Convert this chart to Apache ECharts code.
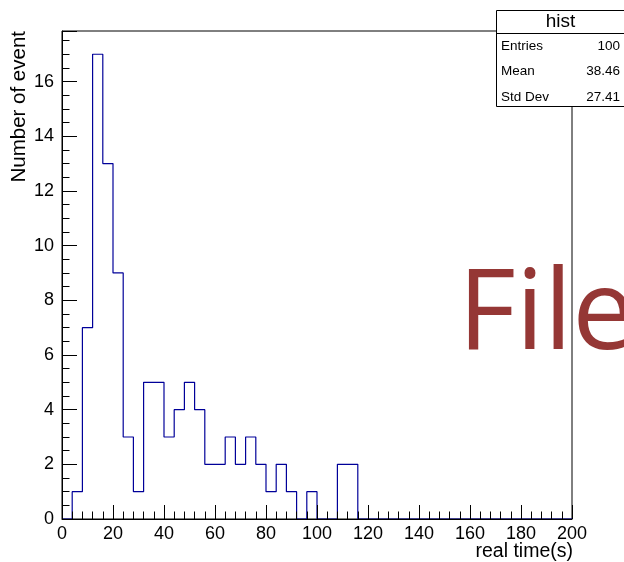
<!DOCTYPE html>
<html><head><meta charset="utf-8">
<script src="https://cdn.jsdelivr.net/npm/echarts@6/dist/echarts.min.js"></script>
<style>html,body{margin:0;padding:0;background:#fff}#c{width:624px;height:562px}</style>
</head><body><div id="c"></div>
<script>
// ---- data ----
const binStart = 0;
const binWidth = 4;
const counts = [0,1,7,17,13,9,3,1,5,5,3,4,5,4,2,2,3,2,3,2,1,2,1,0,1,0,0,2,2,0,
                0,0,0,0,0,0,0,0,0,0,0,0,0,0,0,0,0,0,0,0];
const xTickLabels = [0,20,40,60,80,100,120,140,160,180,200];
const yTickLabels = [0,2,4,6,8,10,12,14,16];
const statsTitle = 'hist';
const statsNames = ['Entries','Mean','Std Dev'];
const statsValues = ['100','38.46','27.41'];
const xTitle = 'real time(s)';
const yTitle = 'Number of event';
const watermark = 'File';
const yMax = 17.85;

// ---- build histogram outline ----
const outline = [[binStart, 0]];
counts.forEach((c, i) => {
  const lo = binStart + i * binWidth, hi = lo + binWidth;
  outline.push([lo, c], [hi, c]);
});
outline.push([binStart + counts.length * binWidth, 0]);

const font = '"Liberation Sans", Arial, Helvetica, sans-serif';
const chart = echarts.init(document.getElementById('c'), null, {renderer: 'canvas'});
const gl = 62, gr = 52, gt = 31, gb = 43;

chart.setOption({
  animation: false,
  backgroundColor: '#fff',
  grid: {left: gl, right: gr, top: gt, bottom: gb, show: true, borderColor: '#000', borderWidth: 1,
         backgroundColor: 'transparent', containLabel: false, outerBoundsMode: 'none'},
  xAxis: {
    type: 'value', min: xTickLabels[0], max: xTickLabels[xTickLabels.length-1], interval: 20, z: 5,
    axisLine: {show: true, lineStyle: {color: '#000', width: 1}},
    axisTick: {show: true, inside: true, length: 14, lineStyle: {color: '#000'}},
    minorTick: {show: true, splitNumber: 5, length: 7.5, lineStyle: {color: '#000'}},
    splitLine: {show: false},
    axisLabel: {color: '#000', fontFamily: font, fontSize: 18, margin: 6,
      formatter: v => xTickLabels.includes(v) ? String(v) : ''}
  },
  yAxis: [{
    type: 'value', min: 0, max: yMax, interval: 2, z: 5,
    axisLine: {show: true, lineStyle: {color: '#000', width: 1}},
    axisTick: {show: true, inside: true, length: 15, lineStyle: {color: '#000'}},
    splitLine: {show: false},
    axisLabel: {color: '#000', fontFamily: font, fontSize: 18, margin: 8,
      formatter: v => yTickLabels.includes(v) ? String(v) : ''},
    name: yTitle, nameLocation: 'end', nameGap: 0, nameRotate: 90,
    nameTextStyle: {color: '#000', fontFamily: font, fontSize: 20.5, align: 'right', verticalAlign: 'bottom', padding: [0, 0, 32, 0]}
  }, {
    type: 'value', min: 0, max: yMax, interval: 0.5, position: 'left', z: 5,
    axisLine: {show: false},
    axisTick: {show: true, inside: true, length: 7.5, lineStyle: {color: '#000'}},
    splitLine: {show: false},
    axisLabel: {show: false}
  }],
  series: [{
    type: 'line', data: outline, xAxisIndex: 0, yAxisIndex: 0,
    showSymbol: false, symbol: 'none', clip: true,
    lineStyle: {color: '#000099', width: 1.2},
    z: 3
  }],
  graphic: [
    {type: 'text', x: 573, y: 552, z: 6,
     style: {text: xTitle, fill: '#000', font: '19.5px ' + font, align: 'right', verticalAlign: 'middle'}},
    {type: 'text', left: 458, top: 261, z: 1,
     style: {text: watermark, fill: '#953735', font: '112px "Open Sans", "Noto Sans", sans-serif'}},
    {type: 'group', left: 494, top: 10, z: 10, children: [
      {type: 'rect', shape: {x: 0.5, y: 0.5, width: 128, height: 96}, style: {fill: '#fff', stroke: '#000', lineWidth: 1}},
      {type: 'line', shape: {x1: 0.5, y1: 23.5, x2: 128.5, y2: 23.5}, style: {stroke: '#000', lineWidth: 1}},
      {type: 'text', x: 64.5, y: 12, style: {text: statsTitle, fill: '#000', font: '19px ' + font, align: 'center', verticalAlign: 'middle'}},
      ...statsNames.map((n, i) => ({type: 'text', x: 5, y: 36 + i * 25.5,
        style: {text: n, fill: '#000', font: '13.5px ' + font, align: 'left', verticalAlign: 'middle'}})),
      ...statsValues.map((v, i) => ({type: 'text', x: 124, y: 36 + i * 25.5,
        style: {text: v, fill: '#000', font: '13.5px ' + font, align: 'right', verticalAlign: 'middle'}}))
    ]}
  ]
});
</script>
</body></html>
